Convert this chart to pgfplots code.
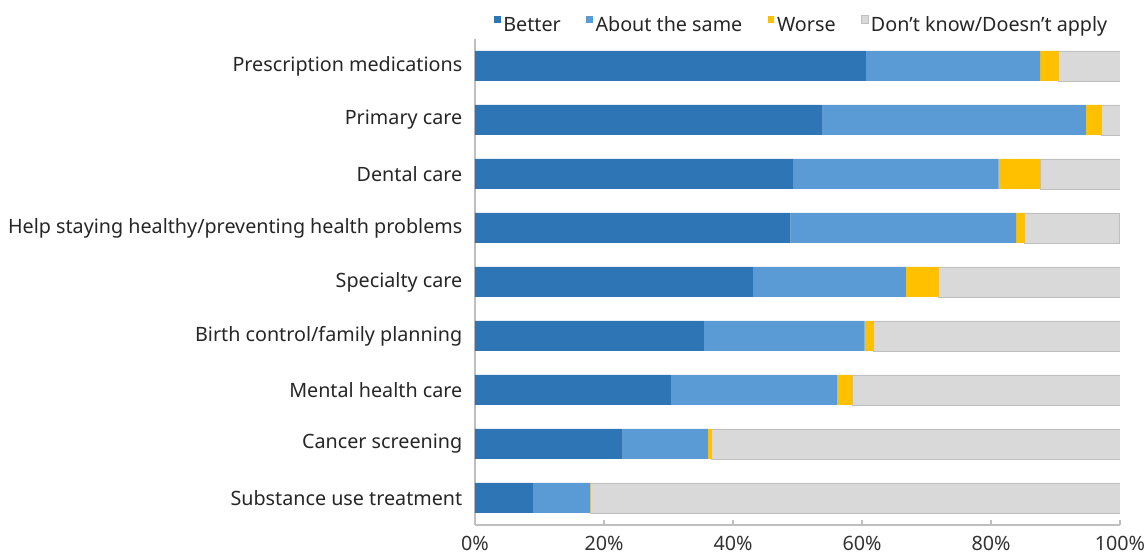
\documentclass[border=0pt]{standalone}
\usepackage{fontspec}
\setmainfont{Noto Sans}
\usepackage{pgfplots}
\pgfplotsset{compat=1.18}

\definecolor{better}{HTML}{2E75B6}
\definecolor{same}{HTML}{5B9BD5}
\definecolor{worse}{HTML}{FFC000}
\definecolor{dk}{HTML}{D9D9D9}
\definecolor{axisgray}{HTML}{BFBFBF}
\definecolor{txt}{HTML}{262626}

% categories from bottom (0) to top (8)
\pgfplotstableread{
cat better same worse dk
0  9.1  8.7  0.1  82.1
1  22.9 13.2 0.5  63.4
2  30.5 25.7 2.3  41.5
3  35.5 24.9 1.3  38.3
4  43.1 23.7 5.1  28.1
5  48.9 35.0 1.3  14.7
6  49.4 31.8 6.4  12.4
7  53.9 40.8 2.4  2.9
8  60.6 27.0 2.9  9.5
}\datatable

\begin{document}
\begin{tikzpicture}
\begin{axis}[
    at={(0,0)}, anchor=south west,
    scale only axis,
    width=483.75pt, height=364.5pt,
    xbar stacked, bar width=22.5pt,
    xmin=0, xmax=100, ymin=-0.5, ymax=8.5,
    ytick={0,...,8},
    yticklabels={Substance use treatment, Cancer screening, Mental health care,
        Birth control/family planning, Specialty care,
        Help staying healthy/preventing health problems,
        Dental care, Primary care, Prescription medications},
    xtick={0,20,...,100},
    xticklabel={\pgfmathprintnumber{\tick}\%},
    /pgf/number format/assume math mode=true,
    axis x line*=bottom, axis y line*=left,
    axis line style={axisgray, line width=0.8pt},
    tick align=inside, major tick length=4pt,
    xtick style={axisgray, line width=0.8pt},
    ytick style={draw=none},
    tick label style={font=\fontsize{14.8}{17}\selectfont, text=txt},
    yticklabel style={xshift=-6pt},
    xticklabel style={yshift=-5pt, text=black!80},
    legend columns=4,
    legend style={draw=none, fill=none, font=\fontsize{14.8}{17}\selectfont,
        text=txt, at={(0.507,1.0288)}, anchor=center,
        /tikz/every even column/.append style={column sep=17pt},
        inner sep=0pt},
    legend image code/.code={\fill[#1] (0pt,1.5pt) rectangle (5pt,7pt);},
]
\addplot[fill=better, draw=none] table[x=better, y=cat] {\datatable};
\addlegendentry{Better}
\addplot[fill=same, draw=none] table[x=same, y=cat] {\datatable};
\addlegendentry{About the same}
\addplot[fill=worse, draw=none] table[x=worse, y=cat] {\datatable};
\addlegendentry{Worse}
\addplot[fill=dk, draw=axisgray, line width=0.5pt] table[x=dk, y=cat] {\datatable};
\addlegendentry{Don't know/Doesn't apply}
\end{axis}
\pgfresetboundingbox
\path[use as bounding box] (-356.25pt,-24pt) rectangle (504pt,393.75pt);
\end{tikzpicture}
\end{document}
